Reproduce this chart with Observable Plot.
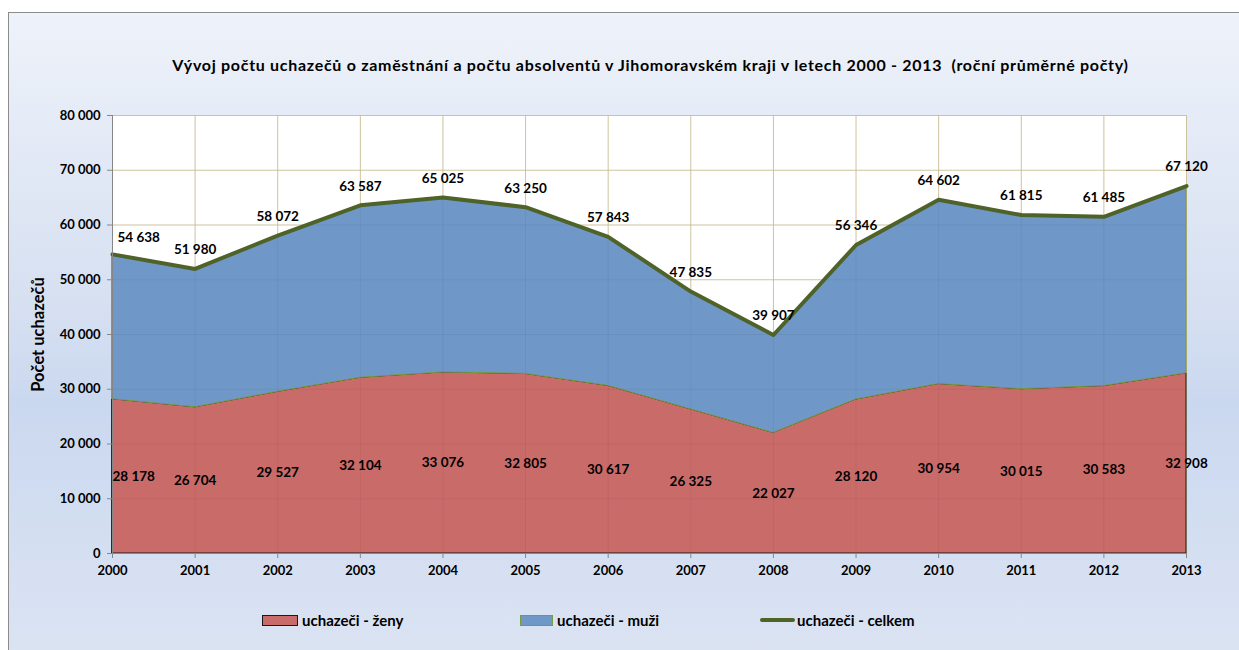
<!DOCTYPE html>
<html><head><meta charset="utf-8">
<script src="https://cdn.jsdelivr.net/npm/d3@7"></script>
<script src="https://cdn.jsdelivr.net/npm/@observablehq/plot@0.6"></script>
<style>
html,body{margin:0;padding:0;background:#fff;overflow:hidden;width:1239px;height:650px;}
#frame{position:absolute;left:8px;top:12px;width:1240px;height:650px;border:1px solid #8c8c8c;
 background:linear-gradient(to bottom,#eef2fa 0%,#d6e0f1 45%,#cad8ef 60%,#dce4f3 100%);font-family:Lato,"Open Sans",sans-serif;}
#title{position:absolute;left:26px;width:1231px;top:42px;text-align:center;font-weight:bold;font-size:16px;letter-spacing:0.7px;white-space:pre;color:#000;}
#chart{position:absolute;left:0;top:0;}
.leg{position:absolute;top:598px;font-weight:bold;font-size:15px;display:flex;align-items:center;white-space:pre;}
.sw{display:inline-block;width:36px;height:11px;margin-right:4px;box-sizing:border-box;}
.ln{display:inline-block;width:35px;height:4px;margin-right:2px;border-radius:2px;}
</style></head>
<body>
<div id="frame">
<div id="title">Vývoj počtu uchazečů o zaměstnání a počtu absolventů v Jihomoravském kraji v letech 2000 - 2013  (roční průměrné počty)</div>
<div id="chart"></div>
<div class="leg" style="left:253px"><span class="sw" style="background:#c96b69;border:1px solid #1a1a1a"></span>uchazeči - ženy</div>
<div class="leg" style="left:511px"><span class="sw" style="width:33px;background:#6f98c8;border:1px solid #7a9a3c"></span>uchazeči - muži</div>
<div class="leg" style="left:751px"><span class="ln" style="background:#4f6228"></span>uchazeči - celkem</div>
</div>
<script>
const years = [2000,2001,2002,2003,2004,2005,2006,2007,2008,2009,2010,2011,2012,2013];
const celkem = [54638,51980,58072,63587,65025,63250,57843,47835,39907,56346,64602,61815,61485,67120];
const zeny = [28178,26704,29527,32104,33076,32805,30617,26325,22027,28120,30954,30015,30583,32908];
const yTicks = [0,10000,20000,30000,40000,50000,60000,70000,80000];

const fmt = d3.formatLocale({thousands:" ", grouping:[3], decimal:","}).format(",d");
const data = years.map((y,i)=>({year:y, total:celkem[i], women:zeny[i], men:celkem[i]-zeny[i]}));
const first = data.slice(0,1), rest = data.slice(1);

const plot = Plot.plot({
  width:1231, height:638,
  marginLeft:103, marginRight:54, marginTop:102, marginBottom:98,
  style:{fontFamily:"Lato, 'Open Sans', sans-serif", fontSize:"12px", fontWeight:"bold", background:"transparent", color:"#000"},
  x:{domain:[2000,2013], ticks:years, tickFormat:"d", label:null},
  y:{domain:[0,80000], ticks:yTicks, tickFormat:fmt, label:null},
  marks:[
    Plot.frame({fill:"#fff", stroke:null}),
    Plot.gridX(years,{stroke:"#d9cfa8", strokeOpacity:1}),
    Plot.gridY(yTicks,{stroke:"#d9cfa8", strokeOpacity:1}),
    Plot.areaY(data,{x:"year", y1:0, y2:"women", fill:"#c96b69", stroke:"#1a1a1a", strokeWidth:1}),
    Plot.areaY(data,{x:"year", y1:"women", y2:"total", fill:"#6f98c8", stroke:"#7a9a3c", strokeWidth:1}),
    Plot.gridX(years,{stroke:"#000", strokeOpacity:0.05}),
    Plot.gridY(yTicks.slice(1),{stroke:"#000", strokeOpacity:0.05}),
    Plot.lineY(data,{x:"year", y:"total", stroke:"#4f6228", strokeWidth:4, strokeLinejoin:"round"}),
    Plot.ruleY([0],{stroke:"#868686"}),
    Plot.ruleX([2000],{stroke:"#868686"}),
    Plot.axisY({ticks:yTicks, tickFormat:fmt, tickSize:5, tickPadding:7, stroke:"#868686", fontSize:13, fontWeight:"bold", label:null}),
    Plot.axisX({ticks:years, tickFormat:"d", tickSize:5, tickPadding:7, stroke:"#868686", fontSize:13, fontWeight:"bold", label:null}),
    Plot.text(["Počet uchazečů"],{frameAnchor:"left", dx:-74, rotate:-90, textAnchor:"middle", fontSize:16.5, fontWeight:"bold"}),
    Plot.text(first,{x:"year", y:"total", text:d=>fmt(d.total), dy:-17, dx:5, textAnchor:"start", fontSize:13.5, fontWeight:"bold"}),
    Plot.text(rest,{x:"year", y:"total", text:d=>fmt(d.total), dy:-19, fontSize:13.5, fontWeight:"bold"}),
    Plot.text(first,{x:"year", y:d=>d.women/2, text:d=>fmt(d.women), textAnchor:"start", fontSize:13.5, fontWeight:"bold"}),
    Plot.text(rest,{x:"year", y:d=>d.women/2, text:d=>fmt(d.women), fontSize:13.5, fontWeight:"bold"})
  ]
});
document.getElementById("chart").appendChild(plot);
</script>
</body></html>
